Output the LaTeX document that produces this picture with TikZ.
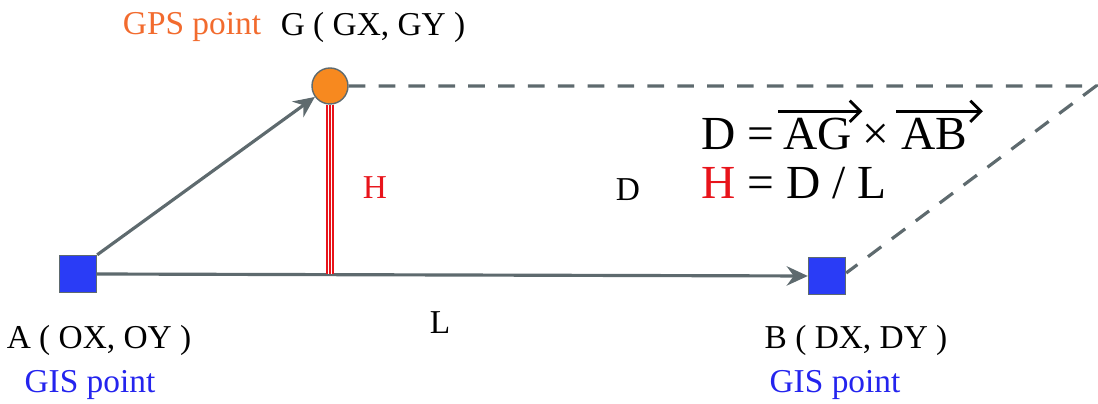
\documentclass[tikz,border=0pt]{standalone}
\usepackage{fontspec}
\setmainfont{Liberation Serif}
\usetikzlibrary{arrows.meta,positioning}
\definecolor{linegray}{HTML}{5E6A6E}
\definecolor{gpsorange}{HTML}{F7891F}
\definecolor{gpstext}{HTML}{F26B2E}
\definecolor{gisblue}{HTML}{2A3CF6}
\definecolor{gistext}{HTML}{2424EE}
\definecolor{hred}{HTML}{E8141B}
\tikzset{
  gis/.style={draw=linegray,fill=gisblue,line width=0.8pt,minimum size=37*0.02cm,inner sep=0pt},
  gps/.style={circle,draw=linegray,fill=gpsorange,line width=0.8pt,minimum size=36*0.02cm,inner sep=0pt},
  lbl/.style={font=\fontsize{19}{22}\selectfont,inner sep=0pt},
  big/.style={font=\fontsize{27}{30}\selectfont,inner sep=0pt,anchor=base west},
  vec/.style={draw=linegray,line width=1.8pt,-{Stealth[length=12pt,width=11pt,inset=4pt]}},
  over/.style={draw=black,line width=1.6pt,-{Straight Barb[length=6pt,width=12pt,line width=1.6pt]}},
  guide/.style={draw=linegray,line width=1.8pt,dash pattern=on 9.5pt off 7.5pt}
}
\begin{document}
\begin{tikzpicture}[x=0.02cm,y=-0.02cm]
\useasboundingbox (0,0) rectangle (1098,404);
% points
\node[gis] (A) at (78,274) {};
\node[gis] (B) at (827,276) {};
\node[gps] (G) at (330,86) {};
\coordinate (C) at (1096,86);
\coordinate (F) at (330,274);
% parallelogram
\draw[guide] (G) -- (C) -- ([yshift=0.06cm]B.east);
\draw[vec] (A.north east) -- (G);
\draw[vec] (A.east) -- (B.west);
% height
\draw[hred,line width=4.2pt] (G.south) -- (F);
\draw[white,line width=2.6pt] (G.south) -- (F);
\draw[hred,line width=0.7pt] (G.south) -- (F);
% labels
\node[lbl,text=gpstext] (gpsl) at (192,27) {GPS point};
\node[lbl] (gl) at (373,27) {G ( GX, GY )};
\node[lbl] (al) at (99,340) {A ( OX, OY )};
\node[lbl,text=gistext] (agis) at (90,385) {GIS point};
\node[lbl] (bl) at (856,340) {B ( DX, DY )};
\node[lbl,text=gistext] (bgis) at (835,385) {GIS point};
\node[lbl,text=hred] (hl) at (375,188) {H};
\node[lbl] (dl) at (628,190) {D};
\node[lbl] (ll) at (440,323) {L};
% formula
\node[big] (fd) at (701,150) {D =};
\node[big,right=0.17cm of fd.base east,anchor=base west] (fag) {AG};
\node[big,right=0.19cm of fag.base east,anchor=base west] (fx) {×};
\node[big,right=0.24cm of fx.base east,anchor=base west] (fab) {AB};
\draw[over] ([xshift=-0.1cm,yshift=0.14cm]fag.north west) -- ([xshift=0.2cm,yshift=0.14cm]fag.north east);
\draw[over] ([xshift=-0.1cm,yshift=0.14cm]fab.north west) -- ([xshift=0.3cm,yshift=0.14cm]fab.north east);
\node[big] (f2) at (701,199) {\textcolor{hred}{H} = D / L};
\end{tikzpicture}
\end{document}
